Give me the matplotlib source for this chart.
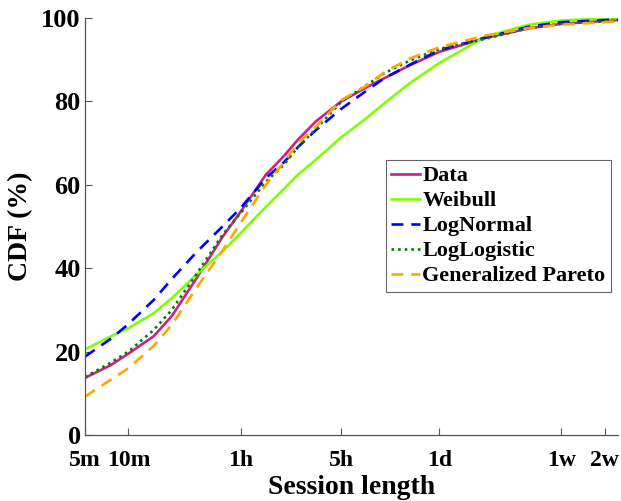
import numpy as np
import matplotlib
matplotlib.use("Agg")
from matplotlib import pyplot as plt

# session length in minutes, CDF in percent
minutes = [5, 7.5, 10, 15, 20, 30, 45, 60, 90, 120, 150, 200, 300, 450, 600, 900, 1440, 3000, 6000, 10080, 20160, 25000]

cdf_data = [13.7, 16.7, 19.5, 23.7, 28.5, 37.8, 47.5, 53.5, 62.4, 66.9, 70.8, 75.2, 80.0, 83.4, 85.6, 88.7, 91.9, 95.2, 97.5, 98.6, 99.3, 99.5]
cdf_weibull = [20.5, 23.6, 25.6, 29.2, 32.8, 38.6, 44.0, 48.4, 54.7, 59.0, 62.4, 66.0, 71.4, 76.0, 79.6, 84.4, 89.2, 95.5, 98.4, 99.4, 99.9, 100.0]
cdf_lognormal = [18.8, 23.0, 26.6, 32.4, 37.4, 44.0, 50.0, 54.4, 61.6, 65.4, 69.0, 73.1, 78.2, 82.6, 85.6, 88.8, 92.3, 95.3, 97.9, 99.0, 99.5, 99.6]
cdf_loglogistic = [13.9, 17.3, 20.0, 25.2, 30.0, 38.8, 48.0, 53.2, 60.7, 64.8, 69.0, 73.4, 79.9, 83.9, 86.8, 89.8, 92.6, 95.0, 97.6, 98.6, 99.2, 99.4]
cdf_pareto = [9.2, 13.2, 16.0, 21.4, 26.4, 35.5, 44.2, 50.8, 60.0, 65.4, 70.0, 73.9, 80.3, 83.8, 87.0, 90.3, 93.0, 95.8, 97.6, 98.4, 99.0, 99.2]

xtick_vals = [5, 10, 60, 300, 1440, 10080, 20160]
xtick_labels = ["5m", "10m", "1h", "5h", "1d", "1w", "2w"]
ytick_vals = [0, 20, 40, 60, 80, 100]

plt.rcParams['font.family'] = ['Liberation Serif', 'DejaVu Serif']
plt.rcParams['font.weight'] = 'bold'

fig = plt.figure(figsize=(6.21, 5.01), dpi=100)
ax = fig.add_axes([85 / 621, 1 - 435 / 501, 533 / 621, 417 / 501])

ax.plot(minutes, cdf_data, color='#C8218C', lw=1.9, label='Data')
ax.plot(minutes, cdf_weibull, color='#80FF00', lw=1.9, label='Weibull')
ax.plot(minutes, cdf_lognormal, color='#0000FF', lw=1.9, ls=(0, (4.5, 3)), label='LogNormal')
ax.plot(minutes, cdf_loglogistic, color='#007F00', lw=1.9, ls=(0, (1, 1.5)), label='LogLogistic')
ax.plot(minutes, cdf_pareto, color='#FFA500', lw=1.9, ls=(0, (4.5, 3)), label='Generalized Pareto')

ax.set_xscale('log')
ax.set_xlim(5, 25000)
ax.set_ylim(0, 100)
ax.set_xticks(xtick_vals)
ax.set_xticklabels(xtick_labels, fontsize=17, fontweight='bold')
ax.xaxis.set_minor_locator(matplotlib.ticker.NullLocator())
ax.set_yticks(ytick_vals)
ax.set_yticklabels([str(v) for v in ytick_vals], fontsize=19, fontweight='bold')

ax.spines['top'].set_visible(False)
ax.spines['right'].set_visible(False)
for s in ['left', 'bottom']:
    ax.spines[s].set_color('#555555')
    ax.spines[s].set_linewidth(0.9)
ax.tick_params(direction='in', length=5, width=0.8, color='#555555', pad=3)
ax.tick_params(axis='x', pad=11)

ax.set_xlabel('Session length', fontsize=20, fontweight='bold', labelpad=3)
ax.set_ylabel('CDF (%)', fontsize=20, fontweight='bold', labelpad=6)

leg = ax.legend(loc='upper right', bbox_to_anchor=(0.987, 0.659), borderaxespad=0,
                prop={'size': 16, 'weight': 'bold'}, handlelength=1.3, handletextpad=0.1,
                labelspacing=0.2, borderpad=0.25, fancybox=False, framealpha=1)
leg.get_frame().set_edgecolor('#666666')
leg.get_frame().set_linewidth(0.8)

fig.savefig('out.png', dpi=100)
